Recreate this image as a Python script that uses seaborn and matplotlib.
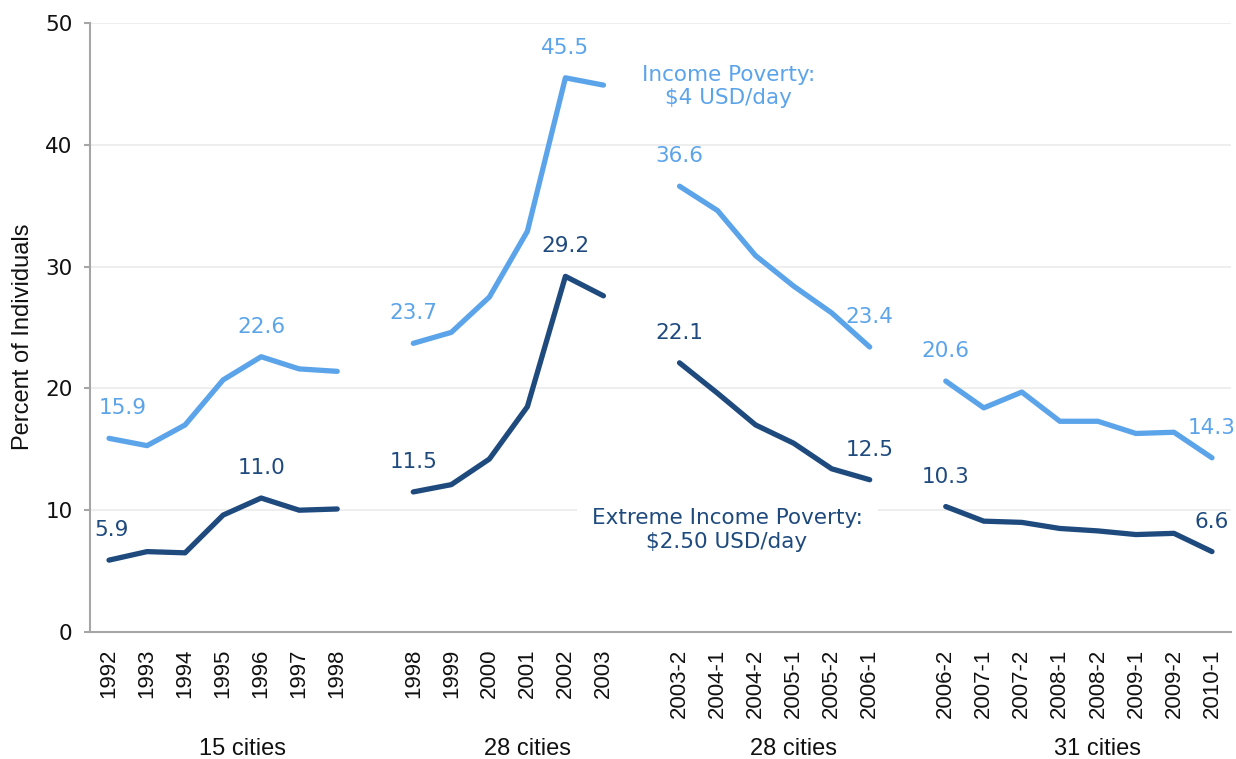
import numpy as np
import pandas as pd
import matplotlib
matplotlib.use("Agg")
import matplotlib.pyplot as plt
import seaborn as sns

### Data
cats_1 = ['1992', '1993', '1994', '1995', '1996', '1997', '1998']
cats_2 = ['1998', '1999', '2000', '2001', '2002', '2003']
cats_3 = ['2003-2', '2004-1', '2004-2', '2005-1', '2005-2', '2006-1']
cats_4 = ['2006-2', '2007-1', '2007-2', '2008-1', '2008-2', '2009-1', '2009-2', '2010-1']
group_names = ['15 cities', '28 cities', '28 cities', '31 cities']

income_1 = [15.9, 15.3, 17.0, 20.7, 22.6, 21.6, 21.4]
income_2 = [23.7, 24.6, 27.5, 32.9, 45.5, 44.9]
income_3 = [36.6, 34.6, 30.9, 28.4, 26.2, 23.4]
income_4 = [20.6, 18.4, 19.7, 17.3, 17.3, 16.3, 16.4, 14.3]

extreme_1 = [5.9, 6.6, 6.5, 9.6, 11.0, 10.0, 10.1]
extreme_2 = [11.5, 12.1, 14.2, 18.5, 29.2, 27.6]
extreme_3 = [22.1, 19.6, 17.0, 15.5, 13.4, 12.5]
extreme_4 = [10.3, 9.1, 9.0, 8.5, 8.3, 8.0, 8.1, 6.6]

# which points in each group carry a value label
label_idx = [[0, 4], [0, 4], [0, 5], [0, 7]]

LIGHT = '#5CA4EA'
DARK = '#1F4A7E'

cats = [cats_1, cats_2, cats_3, cats_4]
income = [income_1, income_2, income_3, income_4]
extreme = [extreme_1, extreme_2, extreme_3, extreme_4]

# build long table, one empty slot between groups
rows = []
tick_pos, tick_lab, group_pos = [], [], []
start = 0
for g in range(len(cats)):
    for i, c in enumerate(cats[g]):
        x = start + i
        tick_pos.append(x)
        tick_lab.append(c)
        rows.append({'x': x, 'y': income[g][i], 'series': 'income', 'seg': g, 'i': i})
        rows.append({'x': x, 'y': extreme[g][i], 'series': 'extreme', 'seg': g, 'i': i})
    end = start + len(cats[g]) - 1
    group_pos.append((start + end) / 2 + 0.5)
    start = end + 2
df = pd.DataFrame(rows)

sns.set_theme(style='white')
fig = plt.figure(figsize=(12.36, 7.59), dpi=100)
ax = fig.add_axes([90 / 1236, 127 / 759, 1141 / 1236, 609 / 759])

sns.lineplot(data=df, x='x', y='y', hue='series', units='seg', estimator=None,
             palette={'income': LIGHT, 'extreme': DARK}, legend=False, ax=ax,
             linewidth=3.8, solid_capstyle='round', solid_joinstyle='round')

ax.set_xlim(-0.5, start - 2 + 0.5)
ax.set_ylim(0, 50)
ax.set_yticks(range(0, 51, 10))
ax.yaxis.grid(True, color='#EBEBEB', lw=1.2)
ax.xaxis.grid(False)
ax.set_axisbelow(True)

for s in ['top', 'right']:
    ax.spines[s].set_visible(False)
for s in ['left', 'bottom']:
    ax.spines[s].set_color('#A6A6A6')
    ax.spines[s].set_linewidth(1.5)

ax.set_xticks(tick_pos)
ax.set_xticklabels(tick_lab, rotation=90, fontsize=16, family='Liberation Sans', color='#111111')
ax.tick_params(axis='x', length=0, pad=12)
ax.tick_params(axis='y', length=4.5, width=1.5, color='#A6A6A6', pad=8, labelsize=15.5,
               labelcolor='#111111', left=True)
for t in ax.get_yticklabels():
    t.set_family('DejaVu Sans')

ax.set_xlabel('')
ax.set_ylabel('Percent of Individuals', fontsize=17, family='Liberation Sans', color='#111111')
ax.yaxis.set_label_coords(-0.049, 0.484)

# value labels
for g in range(len(cats)):
    base = df[(df.seg == g)]
    for i in label_idx[g]:
        dx = 0
        if g == 0 and i == 0:
            dx = 1
        for ser, col, vals in [('income', LIGHT, income[g]), ('extreme', DARK, extreme[g])]:
            x = base[(base.series == ser) & (base.i == i)].x.values[0]
            off = dx * (9.5 if ser == 'income' else 1.5)
            ax.annotate(f'{vals[i]:.1f}', (x, vals[i]), xytext=(off, 21.5),
                        textcoords='offset points', ha='center', va='center',
                        fontsize=15.5, color=col, family='DejaVu Sans')

# series annotations
ax.text(16.28, 44.8, 'Income Poverty:\n$4 USD/day', ha='center', va='center',
        multialignment='center', fontsize=15.5, color=LIGHT, family='DejaVu Sans')
ax.text(16.25, 8.37, 'Extreme Income Poverty:\n$2.50 USD/day', ha='center', va='center',
        multialignment='center', fontsize=15.5, color=DARK, family='DejaVu Sans',
        bbox=dict(boxstyle='square,pad=0.7', fc='white', ec='none'))

# group labels at the bottom of the figure
trans = matplotlib.transforms.blended_transform_factory(ax.transData, fig.transFigure)
for gp, name in zip(group_pos, group_names):
    ax.text(gp, 4 / 759, name, transform=trans, ha='center', va='baseline',
            fontsize=17, family='Liberation Sans', color='#111111')

fig.savefig('out.png', dpi=100)
